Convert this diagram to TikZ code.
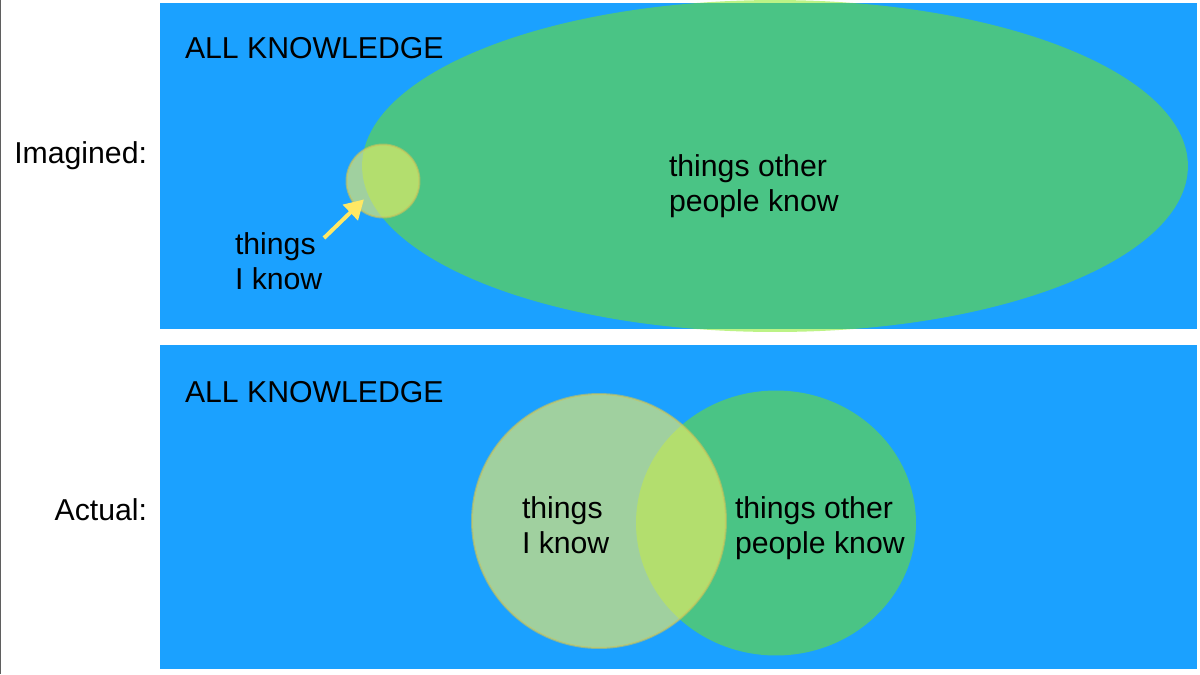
\documentclass[tikz,border=0pt]{standalone}
\usepackage{fontspec}
\setmainfont{Liberation Sans}
\usetikzlibrary{arrows.meta,shapes.geometric}
\definecolor{panel_blue}{RGB}{27,161,255}
\definecolor{other_green}{RGB}{121,231,13}
\definecolor{know_yellow}{RGB}{250,240,95}
\definecolor{know_edge}{RGB}{200,195,90}
\definecolor{arrow_yellow}{RGB}{255,232,100}
\definecolor{frame_gray}{RGB}{95,95,95}

\begin{document}
\begin{tikzpicture}[x=0.02cm,y=-0.02cm,font=\fontsize{17.2}{19.8}\selectfont]
    \tikzstyle{lbl}=[inner sep=0pt, outer sep=0pt, text=black]
    \tikzstyle{two}=[style=lbl, align=left, anchor=north west]
    \tikzstyle{other}=[ellipse, inner sep=0pt, outer sep=0pt, fill=other_green, fill opacity=0.5, draw=none]
    \tikzstyle{know}=[circle, inner sep=0pt, outer sep=0pt, fill=know_yellow, fill opacity=0.6, draw=know_edge, draw opacity=0.6, line width=0.04cm]

    \useasboundingbox (0,0) rectangle (1200,674);
    \draw[frame_gray, line width=0.03cm] (0.75,0) -- (0.75,674);

    % imagined
    \fill[panel_blue] (160,3) rectangle (1197,329);
    \node[other, minimum width=16.52cm, minimum height=6.64cm] (op1) at (775,166) {};
    \node[know, minimum size=1.46cm] (ik1) at (383,181) {};
    \node[lbl, anchor=base west] (all1) at (185,58) {ALL KNOWLEDGE};
    \node[lbl, anchor=base east] (imag) at (147,163) {Imagined:};
    \node[two] (tk1) at (235,233) {things\\I know};
    \node[two] (to1) at (669,155) {things other\\people know};
    \coordinate (tail) at (324,238);
    \path
     (tail) edge[arrow_yellow, line width=0.08cm, -{Triangle[length=0.38cm,width=0.42cm]}, shorten >=-0.2cm] (ik1)
     ;

    % actual
    \fill[panel_blue] (160,345) rectangle (1197,669);
    \node[other, minimum width=5.6cm, minimum height=5.3cm] (op2) at (776,523) {};
    \node[know, minimum size=5.08cm] (ik2) at (599,521) {};
    \node[lbl, anchor=base west] (all2) at (185,402) {ALL KNOWLEDGE};
    \node[lbl, anchor=base east] (act) at (147,520) {Actual:};
    \node[two] (tk2) at (522,497) {things\\I know};
    \node[two] (to2) at (735,497) {things other\\people know};
\end{tikzpicture}
\end{document}
